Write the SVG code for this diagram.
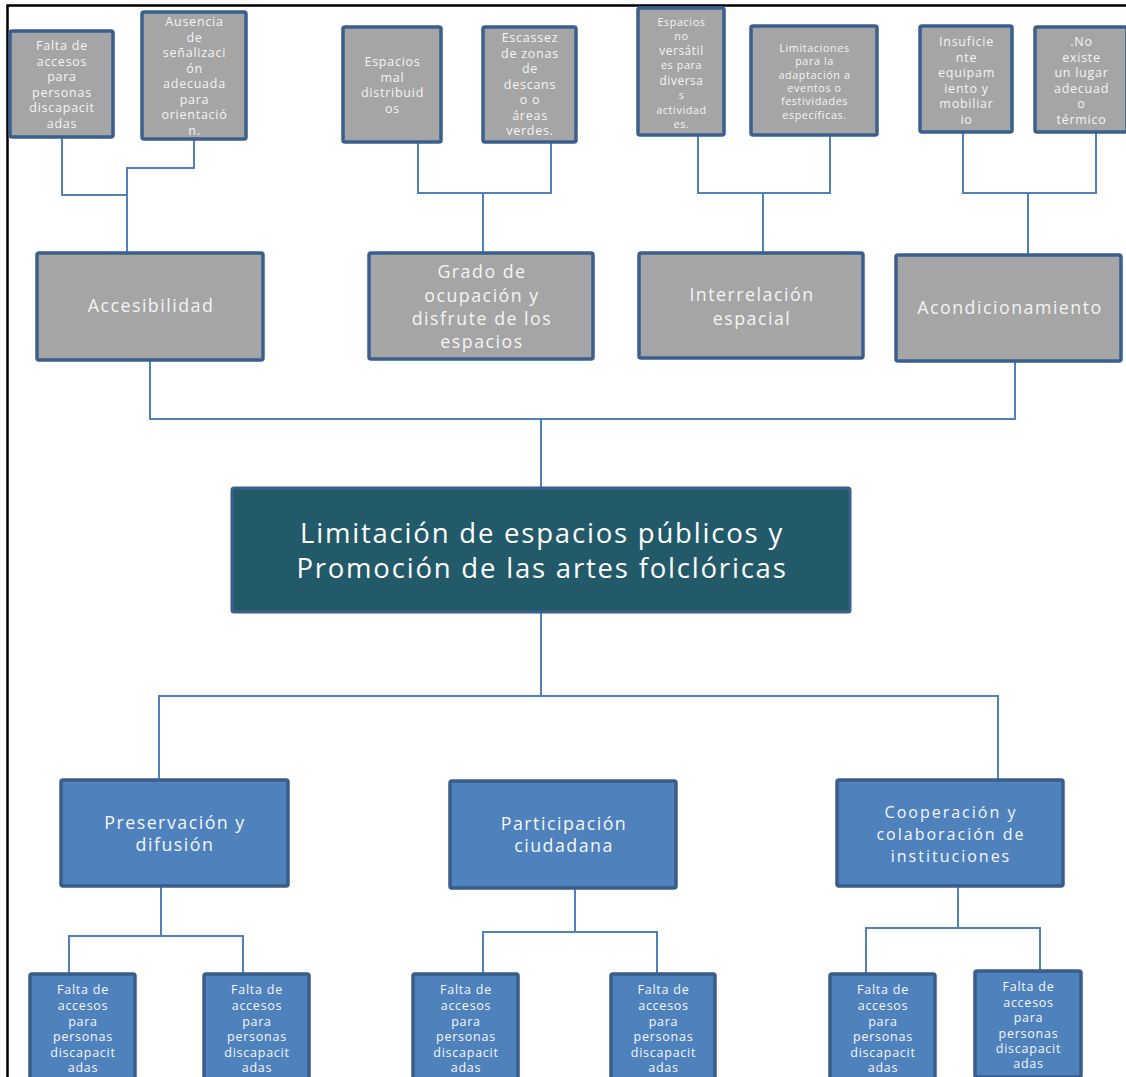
<svg xmlns="http://www.w3.org/2000/svg" width="1126" height="1077" viewBox="0 0 1126 1077">
<style>
.g{fill:#A5A5A5;stroke:#3A5F8C;stroke-width:3.5}
.b{fill:#4F81BD;stroke:#385D8A;stroke-width:3.5}
.c{fill:#225A69;stroke:#3A5F8C;stroke-width:3}
.t{font-family:"Open Sans","Noto Sans",sans-serif;fill:#F4F4F4;text-anchor:middle}
.s{font-size:12.5px;letter-spacing:0.75px}
.xs{font-size:10.8px;letter-spacing:0.6px}
.m{font-size:17.8px;letter-spacing:1.5px}
.m2{font-size:16px;letter-spacing:2px}
.big{font-size:27.5px;letter-spacing:1.8px;fill:#FFFFFF}
.w{fill:#F4F7FB}
.ln{fill:none;stroke:#4F81BD;stroke-width:2}
</style>
<rect width="1126" height="1077" fill="#FFFFFF"/>
<path d="M7.5 1077 V5.5 H1126" fill="none" stroke="#000" stroke-width="2.5"/>
<g id="connectors" class="ln">
<path d="M62 137 V195 H127 M194 139 V168 H127 V253"/>
<path d="M418 142 V193 H551 V142 M483 193 V253"/>
<path d="M698 135 V193 H830 V135 M763 193 V253"/>
<path d="M963 132 V193 H1096 V132 M1028 193 V255"/>
<path d="M150 360 V419 H1015 V361 M541 419 V488"/>
<path d="M541 612 V696 M159 780 V696 H998 V780"/>
<path d="M161 886 V936 M69 974 V936 H243 V974"/>
<path d="M575 888 V932 M483 974 V932 H657 V974"/>
<path d="M958 886 V928 M866 974 V928 H1040 V971"/>
</g>
<g id="n1"><rect class="g" x="10" y="31" width="103" height="106" rx="2"/>
<text class="t s"><tspan x="62" y="50">Falta de</tspan><tspan x="62" y="65.5">accesos</tspan><tspan x="62" y="81">para</tspan><tspan x="62" y="96.5">personas</tspan><tspan x="62" y="112">discapacit</tspan><tspan x="62" y="127.5">adas</tspan></text></g>
<g id="n2"><rect class="g" x="142" y="12" width="104" height="127" rx="2"/>
<text class="t s"><tspan x="194.5" y="26">Ausencia</tspan><tspan x="194.5" y="41.5">de</tspan><tspan x="194.5" y="57">señalizaci</tspan><tspan x="194.5" y="72.5">ón</tspan><tspan x="194.5" y="88">adecuada</tspan><tspan x="194.5" y="103.5">para</tspan><tspan x="194.5" y="119">orientació</tspan><tspan x="194.5" y="134.5">n.</tspan></text></g>
<g id="n3"><rect class="g" x="343" y="27" width="98" height="115" rx="2"/>
<text class="t s"><tspan x="392.5" y="66">Espacios</tspan><tspan x="392.5" y="81.5">mal</tspan><tspan x="392.5" y="97">distribuid</tspan><tspan x="392.5" y="112.5">os</tspan></text></g>
<g id="n4"><rect class="g" x="483" y="27" width="93" height="115" rx="2"/>
<text class="t s"><tspan x="530" y="42">Escassez</tspan><tspan x="530" y="57.5">de zonas</tspan><tspan x="530" y="73">de</tspan><tspan x="530" y="88.5">descans</tspan><tspan x="530" y="104">o o</tspan><tspan x="530" y="119.5">áreas</tspan><tspan x="530" y="135">verdes.</tspan></text></g>
<g id="n5"><rect class="g" x="638" y="8" width="86" height="127" rx="2"/>
<text class="t xs"><tspan x="681.5" y="26">Espacios</tspan><tspan x="681.5" y="40">no</tspan><tspan x="681.5" y="54.5" font-size="11.8">versátil</tspan><tspan x="681.5" y="69">es para</tspan><tspan x="681.5" y="84.5" font-size="11.8">diversa</tspan><tspan x="681.5" y="99">s</tspan><tspan x="681.5" y="114">actividad</tspan><tspan x="681.5" y="127.5">es.</tspan></text></g>
<g id="n6"><rect class="g" x="751" y="26" width="126" height="109" rx="2"/>
<text class="t xs"><tspan x="814.5" y="52">Limitaciones</tspan><tspan x="814.5" y="65">para la</tspan><tspan x="814.5" y="78.5">adaptación a</tspan><tspan x="814.5" y="92">eventos o</tspan><tspan x="814.5" y="105">festividades</tspan><tspan x="814.5" y="118.5">específicas.</tspan></text></g>
<g id="n7"><rect class="g" x="920" y="26" width="92" height="106" rx="2"/>
<text class="t s"><tspan x="966.5" y="46">Insuficie</tspan><tspan x="966.5" y="61.5">nte</tspan><tspan x="966.5" y="77">equipam</tspan><tspan x="966.5" y="92.5">iento y</tspan><tspan x="966.5" y="108">mobiliar</tspan><tspan x="966.5" y="123.5">io</tspan></text></g>
<g id="n8"><rect class="g" x="1035" y="27" width="92" height="105" rx="2"/>
<text class="t s"><tspan x="1081.5" y="46">.No</tspan><tspan x="1081.5" y="61.5">existe</tspan><tspan x="1081.5" y="77">un lugar</tspan><tspan x="1081.5" y="92.5">adecuad</tspan><tspan x="1081.5" y="108">o</tspan><tspan x="1081.5" y="123.5">térmico</tspan></text></g>
<g id="accesibilidad"><rect class="g" x="37" y="253" width="226" height="107" rx="2"/>
<text class="t m"><tspan x="151" y="312">Accesibilidad</tspan></text></g>
<g id="grado"><rect class="g" x="369" y="253" width="224" height="106" rx="2"/>
<text class="t m"><tspan x="482" y="278">Grado de</tspan><tspan x="482" y="302">ocupación y</tspan><tspan x="482" y="325">disfrute de los</tspan><tspan x="482" y="348">espacios</tspan></text></g>
<g id="interrelacion"><rect class="g" x="639" y="253" width="224" height="105" rx="2"/>
<text class="t m"><tspan x="752" y="301">Interrelación</tspan><tspan x="752" y="325">espacial</tspan></text></g>
<g id="acondicionamiento"><rect class="g" x="896" y="255" width="225" height="106" rx="2"/>
<text class="t m"><tspan x="1010" y="314">Acondicionamiento</tspan></text></g>
<g id="central"><rect class="c" x="232" y="488" width="618" height="124" rx="2"/>
<text class="t big"><tspan x="542" y="543">Limitación de espacios públicos y</tspan><tspan x="542" y="578">Promoción  de las artes folclóricas</tspan></text></g>
<g id="preservacion"><rect class="b" x="61" y="780" width="227" height="106" rx="2"/>
<text class="t m w"><tspan x="175" y="829">Preservación y</tspan><tspan x="175" y="851">difusión</tspan></text></g>
<g id="participacion"><rect class="b" x="450" y="781" width="226" height="107" rx="2"/>
<text class="t m w"><tspan x="564" y="830">Participación</tspan><tspan x="564" y="852">ciudadana</tspan></text></g>
<g id="cooperacion"><rect class="b" x="837" y="780" width="226" height="106" rx="2"/>
<text class="t m2 w"><tspan x="951" y="818">Cooperación y</tspan><tspan x="951" y="840">colaboración de</tspan><tspan x="951" y="862">instituciones</tspan></text></g>
<g id="b1"><rect class="b" x="30" y="974" width="105" height="110" rx="2"/>
<text class="t s w"><tspan x="83" y="994">Falta de</tspan><tspan x="83" y="1010">accesos</tspan><tspan x="83" y="1025.5">para</tspan><tspan x="83" y="1041">personas</tspan><tspan x="83" y="1056.5">discapacit</tspan><tspan x="83" y="1072">adas</tspan></text></g>
<g id="b2"><rect class="b" x="204" y="974" width="105" height="110" rx="2"/>
<text class="t s w"><tspan x="257" y="994">Falta de</tspan><tspan x="257" y="1010">accesos</tspan><tspan x="257" y="1025.5">para</tspan><tspan x="257" y="1041">personas</tspan><tspan x="257" y="1056.5">discapacit</tspan><tspan x="257" y="1072">adas</tspan></text></g>
<g id="b3"><rect class="b" x="413" y="974" width="105" height="110" rx="2"/>
<text class="t s w"><tspan x="466" y="994">Falta de</tspan><tspan x="466" y="1010">accesos</tspan><tspan x="466" y="1025.5">para</tspan><tspan x="466" y="1041">personas</tspan><tspan x="466" y="1056.5">discapacit</tspan><tspan x="466" y="1072">adas</tspan></text></g>
<g id="b4"><rect class="b" x="611" y="974" width="104" height="110" rx="2"/>
<text class="t s w"><tspan x="663.5" y="994">Falta de</tspan><tspan x="663.5" y="1010">accesos</tspan><tspan x="663.5" y="1025.5">para</tspan><tspan x="663.5" y="1041">personas</tspan><tspan x="663.5" y="1056.5">discapacit</tspan><tspan x="663.5" y="1072">adas</tspan></text></g>
<g id="b5"><rect class="b" x="830" y="974" width="105" height="110" rx="2"/>
<text class="t s w"><tspan x="883" y="994">Falta de</tspan><tspan x="883" y="1010">accesos</tspan><tspan x="883" y="1025.5">para</tspan><tspan x="883" y="1041">personas</tspan><tspan x="883" y="1056.5">discapacit</tspan><tspan x="883" y="1072">adas</tspan></text></g>
<g id="b6"><rect class="b" x="975" y="971" width="106" height="106" rx="2"/>
<text class="t s w"><tspan x="1028.5" y="991">Falta de</tspan><tspan x="1028.5" y="1006.5">accesos</tspan><tspan x="1028.5" y="1022">para</tspan><tspan x="1028.5" y="1037.5">personas</tspan><tspan x="1028.5" y="1053">discapacit</tspan><tspan x="1028.5" y="1068">adas</tspan></text></g>
</svg>
